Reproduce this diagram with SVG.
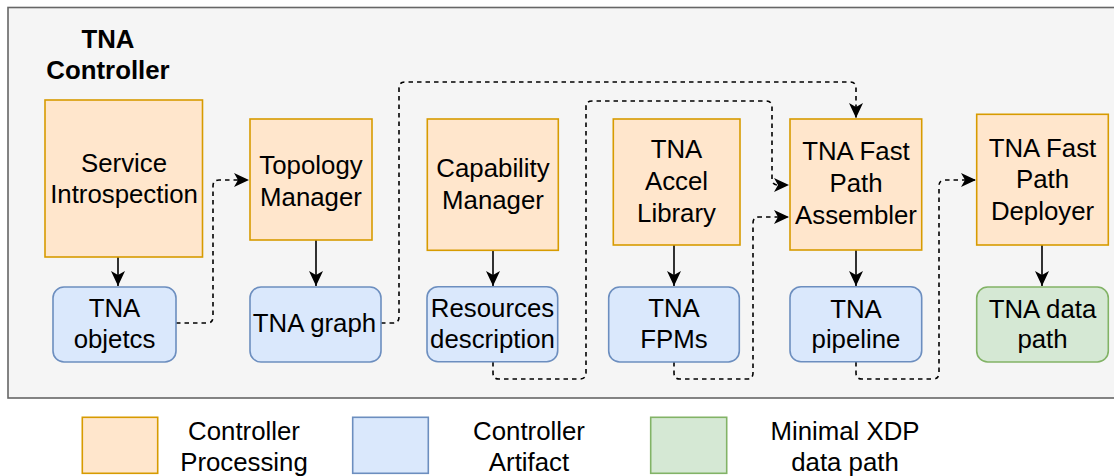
<svg xmlns="http://www.w3.org/2000/svg" width="1114" height="476" viewBox="0 0 1114 476">
<style>
text{font-family:"Liberation Sans",Arial,sans-serif;font-size:25.8px;fill:#000;text-anchor:middle}
.b{font-weight:bold}
.proc{fill:#ffe6cc;stroke:#d79b00;stroke-width:1.6}
.art{fill:#dae8fc;stroke:#6c8ebf;stroke-width:1.6}
.dp{fill:#d5e8d4;stroke:#82b366;stroke-width:1.6}
.solid{fill:none;stroke:#000;stroke-width:1.6}
.dash{fill:none;stroke:#000;stroke-width:1.6;stroke-dasharray:4.5 4}
</style>
<defs>
<marker id="ah" markerUnits="userSpaceOnUse" markerWidth="16" markerHeight="16" viewBox="0 0 16 16" refX="15" refY="8" orient="auto">
<path d="M0,1 L15,8 L0,15 L4,8 Z" fill="#000"/>
</marker>
</defs>
<rect x="8" y="7.5" width="1120" height="390.5" fill="#f5f5f5" stroke="#666666" stroke-width="1.6"/>
<text class="b" x="108" y="47.7">TNA</text>
<text class="b" x="108" y="79.3">Controller</text>

<g id="connectors">
<path class="solid" d="M118,257 V286" marker-end="url(#ah)"/>
<path class="solid" d="M316,240 V286" marker-end="url(#ah)"/>
<path class="solid" d="M493,250 V286" marker-end="url(#ah)"/>
<path class="solid" d="M674,245 V286" marker-end="url(#ah)"/>
<path class="solid" d="M856,250 V286" marker-end="url(#ah)"/>
<path class="solid" d="M1042,245 V286" marker-end="url(#ah)"/>
<path class="dash" d="M176,323 H207 Q213,323 213,317 V186 Q213,180 219,180 H249" marker-end="url(#ah)"/>
<path class="dash" d="M381,323 H393 Q399,323 399,317 V88 Q399,82 405,82 H850 Q856,82 856,88 V118" marker-end="url(#ah)"/>
<path class="dash" d="M493,362 V373 Q493,379 499,379 H580 Q586,379 586,373 V107 Q586,101 592,101 H766 Q772,101 772,107 V179 Q772,185 778,185 H789" marker-end="url(#ah)"/>
<path class="dash" d="M674,362 V373 Q674,379 680,379 H747 Q753,379 753,373 V223 Q753,217 759,217 H789" marker-end="url(#ah)"/>
<path class="dash" d="M856,362 V373 Q856,379 862,379 H933 Q939,379 939,373 V186 Q939,180 945,180 H976" marker-end="url(#ah)"/>
</g>

<g id="service-introspection">
<rect class="proc" x="45" y="100" width="157.5" height="157"/>
<text x="124" y="172">Service</text>
<text x="124" y="203.3">Introspection</text>
</g>
<g id="topology-manager">
<rect class="proc" x="250" y="119" width="122" height="121"/>
<text x="311" y="174">Topology</text>
<text x="311" y="205.7">Manager</text>
</g>
<g id="capability-manager">
<rect class="proc" x="427.3" y="119" width="131" height="131.3"/>
<text x="493" y="177.3">Capability</text>
<text x="493" y="209.3">Manager</text>
</g>
<g id="tna-accel-library">
<rect class="proc" x="613.3" y="119" width="126.7" height="126"/>
<text x="676.5" y="158.3">TNA</text>
<text x="676.5" y="190">Accel</text>
<text x="676.5" y="221.7">Library</text>
</g>
<g id="tna-fast-path-assembler">
<rect class="proc" x="790" y="119" width="131.7" height="131"/>
<text x="856" y="160">TNA Fast</text>
<text x="856" y="191.7">Path</text>
<text x="856" y="224">Assembler</text>
</g>
<g id="tna-fast-path-deployer">
<rect class="proc" x="976.7" y="114.3" width="131.6" height="130.7"/>
<text x="1042.5" y="156.7">TNA Fast</text>
<text x="1042.5" y="188.3">Path</text>
<text x="1042.5" y="220">Deployer</text>
</g>

<g id="tna-objetcs">
<rect class="art" x="53" y="287" width="123" height="75" rx="11"/>
<text x="114.5" y="316.7">TNA</text>
<text x="114.5" y="347.7">objetcs</text>
</g>
<g id="tna-graph">
<rect class="art" x="250" y="287" width="131" height="75" rx="11"/>
<text x="314.5" y="332.3">TNA graph</text>
</g>
<g id="resources-description">
<rect class="art" x="427" y="286.7" width="130.7" height="75" rx="11"/>
<text x="492.5" y="316.7">Resources</text>
<text x="492.5" y="347.7">description</text>
</g>
<g id="tna-fpms">
<rect class="art" x="608.7" y="287" width="130.6" height="75" rx="11"/>
<text x="674" y="317.3">TNA</text>
<text x="674" y="348.3">FPMs</text>
</g>
<g id="tna-pipeline">
<rect class="art" x="790" y="286.7" width="131.7" height="75" rx="11"/>
<text x="856" y="317.7">TNA</text>
<text x="856" y="348.3">pipeline</text>
</g>
<g id="tna-data-path">
<rect class="dp" x="976.7" y="287" width="131.6" height="75" rx="11"/>
<text x="1042.5" y="317.7">TNA data</text>
<text x="1042.5" y="348.3">path</text>
</g>

<g id="legend-processing">
<rect class="proc" x="82.3" y="417.3" width="75.4" height="56"/>
<text x="244" y="440">Controller</text>
<text x="244" y="471">Processing</text>
</g>
<g id="legend-artifact">
<rect class="art" x="352.7" y="417.3" width="75.6" height="56"/>
<text x="529" y="440">Controller</text>
<text x="529" y="471">Artifact</text>
</g>
<g id="legend-datapath">
<rect class="dp" x="650.7" y="417.3" width="76" height="56"/>
<text x="845" y="440">Minimal XDP</text>
<text x="845" y="471">data path</text>
</g>
</svg>
